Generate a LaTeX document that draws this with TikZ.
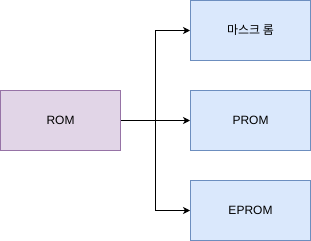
\documentclass[tikz,border=0pt]{standalone}
\usepackage{fontspec}
\setmainfont{Liberation Sans}
\newfontfamily\krfont{Noto Sans CJK KR}
\usetikzlibrary{arrows.meta}
\definecolor{purplefill}{HTML}{E1D5E7}
\definecolor{purpledraw}{HTML}{9673A6}
\definecolor{bluefill}{HTML}{DAE8FC}
\definecolor{bluedraw}{HTML}{6C8EBF}
\begin{document}
\begin{tikzpicture}[x=1pt,y=-1pt,
  box/.style={rectangle, minimum width=120pt, minimum height=60pt, inner sep=0pt, line width=1pt, font=\fontsize{12}{14}\selectfont},
  purplebox/.style={box, fill=purplefill, draw=purpledraw},
  bluebox/.style={box, fill=bluefill, draw=bluedraw},
  arr/.style={line width=1pt, -{Stealth[length=7pt,width=7pt,inset=2pt]}}]
\useasboundingbox (0,0) rectangle (311,241);
\node[purplebox] (rom) at (60.5,120.5) {ROM};
\node[bluebox] (mask) at (250.5,30.5) {\krfont 마스크 롬};
\node[bluebox] (prom) at (250.5,120.5) {PROM};
\node[bluebox] (eprom) at (250.5,210.5) {EPROM};
\coordinate (j) at (155.5,120.5);
\draw[arr] (rom.east) -- (j) |- (mask.west);
\draw[arr] (rom.east) -- (prom.west);
\draw[arr] (rom.east) -- (j) |- (eprom.west);
\end{tikzpicture}
\end{document}
